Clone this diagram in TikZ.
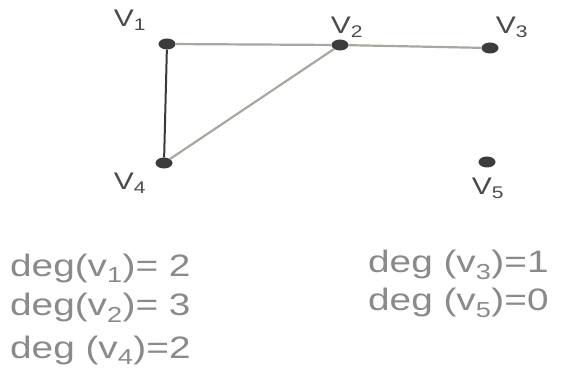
\documentclass[tikz,border=0pt]{standalone}
\usepackage{fontspec}
\setmainfont{Liberation Sans}
\newfontfamily\handfont[FakeStretch=1.25]{Liberation Sans}
\usetikzlibrary{shapes.geometric}
\begin{document}
\begin{tikzpicture}[x=1pt,y=-1pt,
  vert/.style={ellipse,fill=vcol,minimum width=17pt,minimum height=11pt,inner sep=0pt},
  vlab/.style={text=lcol,font=\handfont\fontsize{24}{26}\selectfont},
  deglab/.style={text=tcol,font=\handfont\fontsize{31}{33}\selectfont,anchor=west,inner sep=0pt},
  edge/.style={draw=ecol,line width=2.2pt}]
\definecolor{vcol}{HTML}{3C3C3C}
\definecolor{ecol}{HTML}{A8A8A0}
\definecolor{dcol}{HTML}{3A3A3A}
\definecolor{lcol}{HTML}{4A4A4A}
\definecolor{tcol}{HTML}{8A8A8A}
\useasboundingbox (0,0) rectangle (566,382);
\node[vert] (v1) at (167,44) {};
\node[vert] (v2) at (340,45) {};
\node[vert] (v3) at (490,48) {};
\node[vert] (v4) at (164,163) {};
\node[vert] (v5) at (487,162) {};
\draw[edge] (v1) -- (v2);
\draw[edge] (v2) -- (v3);
\draw[edge] (v2) -- (v4);
\draw[draw=dcol,line width=2pt] (v1) -- (v4);
\node[vlab] (l1) at (130,20) {V\textsubscript{1}};
\node[vlab] (l2) at (347,27) {V\textsubscript{2}};
\node[vlab] (l3) at (512,27) {V\textsubscript{3}};
\node[vlab] (l4) at (130,183) {V\textsubscript{4}};
\node[vlab] (l5) at (488,188) {V\textsubscript{5}};
\node[deglab] (d1) at (10,268) {deg(v\textsubscript{1})= 2};
\node[deglab] (d2) at (10,308) {deg(v\textsubscript{2})= 3};
\node[deglab] (d4) at (10,350) {deg (v\textsubscript{4})=2};
\node[deglab] (d3) at (368,265) {deg (v\textsubscript{3})=1};
\node[deglab] (d5) at (368,303) {deg (v\textsubscript{5})=0};
\end{tikzpicture}
\end{document}
